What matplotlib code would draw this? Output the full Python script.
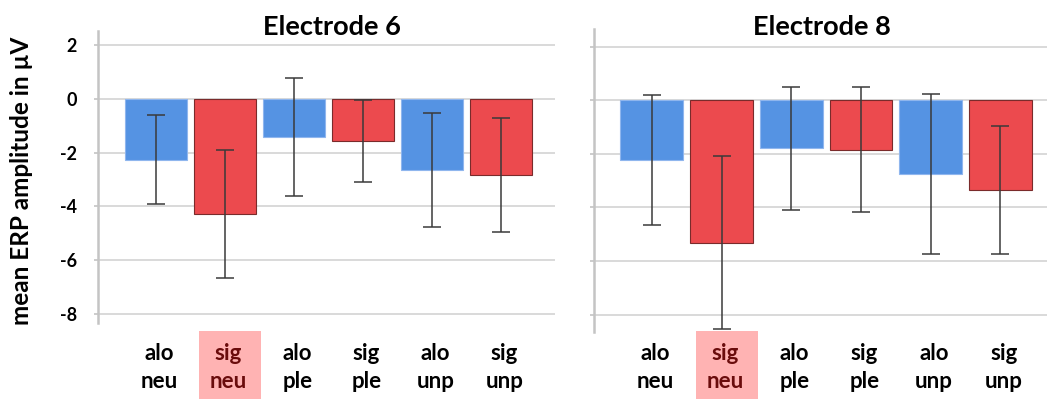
import matplotlib
matplotlib.use('Agg')
from matplotlib import pyplot as plt
from matplotlib.patches import Rectangle
from matplotlib.transforms import blended_transform_factory

plt.rcParams['font.family'] = ['Lato', 'DejaVu Sans']
plt.rcParams['font.weight'] = 'bold'

conditions = ['alo\nneu', 'sig\nneu', 'alo\nple', 'sig\nple', 'alo\nunp', 'sig\nunp']
highlighted = 1  # sig neu

e6_mean = [-2.26, -4.29, -1.41, -1.57, -2.65, -2.83]
e6_err = [1.64, 2.38, 2.19, 1.53, 2.13, 2.13]

e8_mean = [-2.23, -5.31, -1.79, -1.85, -2.75, -3.36]
e8_err = [2.44, 3.24, 2.30, 2.33, 3.00, 2.39]

yticks = [2, 0, -2, -4, -6, -8]

BLUE = '#5593e3'
RED = '#ec4a4e'
W, H = 1047, 399


def panel(fig, rect, means, errs, title, title_x, ylim, xlim, show_labels):
    ax = fig.add_axes(rect)
    x = list(range(len(means)))
    colors = [BLUE if i % 2 == 0 else RED for i in x]
    edges = ['#8fb6ee' if i % 2 == 0 else '#7a2b2b' for i in x]
    ax.bar(x, means, width=0.9, color=colors, edgecolor=edges, linewidth=0.8, zorder=2)
    ax.errorbar(x, means, yerr=errs, fmt='none', ecolor='#3a3a3a', elinewidth=1.1,
                capsize=6.5, capthick=1.1, zorder=3)
    ax.set_ylim(*ylim)
    ax.set_xlim(*xlim)
    ax.set_yticks(yticks)
    ax.yaxis.grid(True, color='#d9d9d9', linewidth=1.4, zorder=0)
    ax.set_axisbelow(True)
    for s in ['top', 'right', 'bottom']:
        ax.spines[s].set_visible(False)
    ax.spines['left'].set_color('#c4c4c4')
    ax.spines['left'].set_linewidth(1.8)
    ax.set_xticks([])
    ax.tick_params(axis='y', length=3, color='#c4c4c4', width=1.2, pad=12,
                   labelsize=13)
    if show_labels:
        ax.set_yticklabels([str(t) for t in yticks], fontweight='bold')
    else:
        ax.set_yticklabels([])

    # highlighted condition box and two-line category labels
    tr = blended_transform_factory(ax.transData, fig.transFigure)
    ax.add_patch(Rectangle((highlighted - 0.37, 0), 0.9, 1 - 331 / H, transform=tr,
                           facecolor='#ffb3b3', edgecolor='none', clip_on=False, zorder=0))
    for i, lab in enumerate(conditions):
        top, bot = lab.split('\n')
        c = '#6a0c0c' if i == highlighted else 'black'
        ax.text(i + 0.05, 1 - 360 / H, top, transform=tr, ha='center', va='baseline',
                fontsize=16, fontweight='bold', color=c)
        ax.text(i + 0.05, 1 - 388 / H, bot, transform=tr, ha='center', va='baseline',
                fontsize=16, fontweight='bold', color=c)
    fig.text(title_x / W, 1 - 35 / H, title, ha='center', va='baseline',
             fontsize=19.5, fontweight='bold')
    return ax


fig = plt.figure(figsize=(W / 100, H / 100), dpi=100)

panel(fig, [98 / W, (H - 322.7) / H, (555 - 98) / W, (322.7 - 31) / H],
      e6_mean, e6_err, 'Electrode 6', 332, (-8.32, 2.52), (-0.835, 5.78), True)
panel(fig, [594 / W, (H - 332) / H, (1047 - 594) / W, (332 - 29.3) / H],
      e8_mean, e8_err, 'Electrode 8', 822, (-8.65, 2.65), (-0.83, 5.67), False)

fig.text(22 / W, 1 - 181 / H, 'mean ERP amplitude in µV', rotation=90,
         ha='center', va='center', fontsize=17.5, fontweight='bold')

fig.savefig('out.png', dpi=100)
